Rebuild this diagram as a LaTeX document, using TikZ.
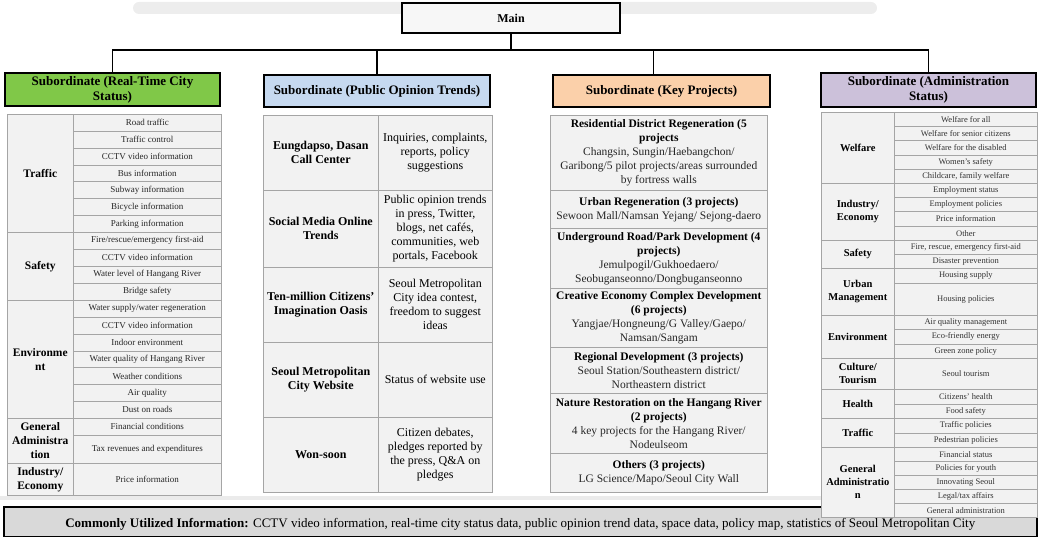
\documentclass[tikz,border=0pt]{standalone}
\usepackage{fontspec}
\setmainfont{Liberation Serif}

\definecolor{statusgreen}{RGB}{128,200,72}
\definecolor{opinionblue}{RGB}{198,217,240}
\definecolor{projectpeach}{RGB}{251,208,170}
\definecolor{adminlilac}{RGB}{204,193,218}
\definecolor{cellgrey}{RGB}{242,242,242}
\definecolor{rulegrey}{RGB}{165,165,165}

\tikzset{
  subhead/.style={draw=black, line width=1.8pt, inner sep=0pt, align=center,
    font=\fontsize{13}{15}\selectfont\bfseries},
  link/.style={line width=1.2pt},
  cell/.style={draw=rulegrey, fill=cellgrey, line width=0.6pt, inner sep=0pt,
    anchor=north west, align=center},
  grouplabel/.style={cell, font=\fontsize{11.5}{14}\selectfont\bfseries},
  smallitem/.style={cell, font=\fontsize{9}{11}\selectfont, text=black!85},
  adminlabel/.style={cell, font=\fontsize{10.5}{13}\selectfont\bfseries},
  tinyitem/.style={cell, font=\fontsize{8.5}{10}\selectfont, text=black!80},
  opinionlabel/.style={cell, font=\fontsize{12}{14}\selectfont\bfseries},
  opiniontext/.style={cell, font=\fontsize{12}{14}\selectfont},
  projectcell/.style={cell, minimum width=217pt, font=\fontsize{11.5}{14}\selectfont, text=black!85},
}

\begin{document}
\begin{tikzpicture}[x=1pt,y=-1pt]
    \useasboundingbox (0,0) rectangle (1038,537);

    % soft shadows
    \fill[black!7, rounded corners=6pt] (133,2) rectangle (877,14);
    \fill[black!8] (0,496) rectangle (1038,500);

    \node (main) [draw, line width=1.2pt, fill=cellgrey!60, minimum width=218pt, minimum height=30pt,
        font=\fontsize{12}{14}\selectfont\bfseries] at (511,18) {Main};

    % the four subordinate headings
    \node (status) [subhead, fill=statusgreen, minimum width=215pt, minimum height=33pt] at (112.5,89.5) {Subordinate (Real-Time City\\Status)};
    \node (opinion) [subhead, fill=opinionblue, minimum width=226pt, minimum height=32pt] at (377,91) {Subordinate (Public Opinion Trends)};
    \node (projects) [subhead, fill=projectpeach, minimum width=217pt, minimum height=32pt] at (661.5,91) {Subordinate (Key Projects)};
    \node (admin) [subhead, fill=adminlilac, minimum width=215pt, minimum height=34pt] at (928.5,90) {Subordinate (Administration\\Status)};

    \coordinate (bus) at (511,50);
    \draw[link] (main.south) -- (bus);
    \draw[link] (status.north) |- (bus) -| (admin.north);
    \draw[link] (opinion.north) -- (opinion.north |- bus);
    \draw[link] ([xshift=-8pt]projects.north) -- ([xshift=-8pt]projects.north |- bus);

    % real-time city status
    \node (traffic) [grouplabel, minimum width=66pt, minimum height=118pt] at (7,114) {Traffic};
    \foreach \t [count=\i from 0] in {Road traffic, Traffic control, CCTV video information, Bus information,
        Subway information, Bicycle information, Parking information}
        \node (traffic\i) [smallitem, minimum width=148pt, minimum height=16.86pt] at (73,{114+16.86*\i}) {\t};
    \node (safety) [grouplabel, minimum width=66pt, minimum height=68pt] at (7,232) {Safety};
    \foreach \t [count=\i from 0] in {Fire/rescue/emergency first-aid, CCTV video information,
        Water level of Hangang River, Bridge safety}
        \node (safety\i) [smallitem, minimum width=148pt, minimum height=17pt] at (73,{232+17*\i}) {\t};
    \node (environment) [grouplabel, minimum width=66pt, minimum height=118pt] at (7,300) {Environme\\nt};
    \foreach \t [count=\i from 0] in {Water supply/water regeneration, CCTV video information, Indoor environment,
        Water quality of Hangang River, Weather conditions, Air quality, Dust on roads}
        \node (environment\i) [smallitem, minimum width=148pt, minimum height=16.86pt] at (73,{300+16.86*\i}) {\t};
    \node (general) [grouplabel, minimum width=66pt, minimum height=45pt] at (7,418) {General\\Administra\\tion};
    \node (general0) [smallitem, minimum width=148pt, minimum height=17pt] at (73,418) {Financial conditions};
    \node (general1) [smallitem, minimum width=148pt, minimum height=28pt] at (73,435) {Tax revenues and expenditures};
    \node (industry) [grouplabel, minimum width=66pt, minimum height=32pt] at (7,463) {Industry/\\Economy};
    \node (industry0) [smallitem, minimum width=148pt, minimum height=32pt] at (73,463) {Price information};

    % public opinion trends
    \node (callcenter) [opinionlabel, minimum width=115pt, minimum height=75pt] at (263,115) {Eungdapso, Dasan\\Call Center};
    \node (callcenter0) [opiniontext, minimum width=114pt, minimum height=75pt] at (378,115) {Inquiries, complaints,\\reports, policy\\suggestions};
    \node (social) [opinionlabel, minimum width=115pt, minimum height=77pt] at (263,190) {Social Media Online\\Trends};
    \node (social0) [opiniontext, minimum width=114pt, minimum height=77pt] at (378,190) {Public opinion trends\\in press, Twitter,\\blogs, net cafés,\\communities, web\\portals, Facebook};
    \node (oasis) [opinionlabel, minimum width=115pt, minimum height=75pt] at (263,267) {Ten-million Citizens'\\Imagination Oasis};
    \node (oasis0) [opiniontext, minimum width=114pt, minimum height=75pt] at (378,267) {Seoul Metropolitan\\City idea contest,\\freedom to suggest\\ideas};
    \node (website) [opinionlabel, minimum width=115pt, minimum height=75pt] at (263,342) {Seoul Metropolitan\\City Website};
    \node (website0) [opiniontext, minimum width=114pt, minimum height=75pt] at (378,342) {Status of website use};
    \node (wonsoon) [opinionlabel, minimum width=115pt, minimum height=75pt] at (263,417) {Won-soon};
    \node (wonsoon0) [opiniontext, minimum width=114pt, minimum height=75pt] at (378,417) {Citizen debates,\\pledges reported by\\the press, Q\&A on\\pledges};

    % key projects
    \node (residential) [projectcell, minimum height=75pt] at (550,115)
        {\textbf{\color{black}Residential District Regeneration (5}\\\textbf{\color{black}projects}\\Changsin, Sungin/Haebangchon/\\Garibong/5 pilot projects/areas surrounded\\by fortress walls};
    \node (urban) [projectcell, minimum height=38pt] at (550,190)
        {\textbf{\color{black}Urban Regeneration (3 projects)}\\Sewoon Mall/Namsan Yejang/ Sejong-daero};
    \node (underground) [projectcell, minimum height=60pt] at (550,228)
        {\textbf{\color{black}Underground Road/Park Development (4}\\\textbf{\color{black}projects)}\\Jemulpogil/Gukhoedaero/\\Seobuganseonno/Dongbuganseonno};
    \node (creative) [projectcell, minimum height=59pt] at (550,288)
        {\textbf{\color{black}Creative Economy Complex Development}\\\textbf{\color{black}(6 projects)}\\Yangjae/Hongneung/G Valley/Gaepo/\\Namsan/Sangam};
    \node (regional) [projectcell, minimum height=46pt] at (550,347)
        {\textbf{\color{black}Regional Development (3 projects)}\\Seoul Station/Southeastern district/\\Northeastern district};
    \node (nature) [projectcell, minimum height=60pt] at (550,393)
        {\textbf{\color{black}Nature Restoration on the Hangang River}\\\textbf{\color{black}(2 projects)}\\4 key projects for the Hangang River/\\Nodeulseom};
    \node (others) [projectcell, minimum height=39pt] at (550,453)
        {\textbf{\color{black}Others (3 projects)}\\LG Science/Mapo/Seoul City Wall};

    % shared information bar
    \node (common) [draw, line width=1.5pt, fill=black!15, anchor=north west, minimum width=1033pt, minimum height=30pt] at (3,506) {};
    \node (commontext) [font=\fontsize{13}{15}\selectfont, inner sep=0pt] at ([yshift=-3pt]common.center)
        {\textbf{Commonly Utilized Information:} CCTV video information, real-time city status data, public opinion trend data, space data, policy map, statistics of Seoul Metropolitan City};

    % administration status
    \node (welfare) [adminlabel, minimum width=73pt, minimum height=71pt] at (821,112) {Welfare};
    \foreach \t [count=\i from 0] in {Welfare for all, Welfare for senior citizens, Welfare for the disabled,
        Women's safety, {Childcare, family welfare}}
        \node (welfare\i) [tinyitem, minimum width=143pt, minimum height=14.2pt] at (894,{112+14.2*\i}) {\t};
    \node (economy) [adminlabel, minimum width=73pt, minimum height=57pt] at (821,183) {Industry/\\Economy};
    \foreach \t [count=\i from 0] in {Employment status, Employment policies, Price information, Other}
        \node (economy\i) [tinyitem, minimum width=143pt, minimum height=14.25pt] at (894,{183+14.25*\i}) {\t};
    \node (adminsafety) [adminlabel, minimum width=73pt, minimum height=28pt] at (821,240) {Safety};
    \foreach \t [count=\i from 0] in {{Fire, rescue, emergency first-aid}, Disaster prevention}
        \node (adminsafety\i) [tinyitem, minimum width=143pt, minimum height=14pt] at (894,{240+14*\i}) {\t};
    \node (management) [adminlabel, minimum width=73pt, minimum height=47pt] at (821,268) {Urban\\Management};
    \node (management0) [tinyitem, minimum width=143pt, minimum height=14.5pt] at (894,268) {Housing supply};
    \node (management1) [tinyitem, minimum width=143pt, minimum height=32.5pt] at (894,282.5) {Housing policies};
    \node (adminenv) [adminlabel, minimum width=73pt, minimum height=43pt] at (821,315) {Environment};
    \foreach \t [count=\i from 0] in {Air quality management, Eco-friendly energy, Green zone policy}
        \node (adminenv\i) [tinyitem, minimum width=143pt, minimum height=14.33pt] at (894,{315+14.33*\i}) {\t};
    \node (culture) [adminlabel, minimum width=73pt, minimum height=31pt] at (821,358) {Culture/\\Tourism};
    \node (culture0) [tinyitem, minimum width=143pt, minimum height=31pt] at (894,358) {Seoul tourism};
    \node (health) [adminlabel, minimum width=73pt, minimum height=29pt] at (821,389) {Health};
    \foreach \t [count=\i from 0] in {Citizens' health, Food safety}
        \node (health\i) [tinyitem, minimum width=143pt, minimum height=14.5pt] at (894,{389+14.5*\i}) {\t};
    \node (admintraffic) [adminlabel, minimum width=73pt, minimum height=29pt] at (821,418) {Traffic};
    \foreach \t [count=\i from 0] in {Traffic policies, Pedestrian policies}
        \node (admintraffic\i) [tinyitem, minimum width=143pt, minimum height=14.5pt] at (894,{418+14.5*\i}) {\t};
    \node (adminadmin) [adminlabel, minimum width=73pt, minimum height=70pt] at (821,447) {General\\Administratio\\n};
    \foreach \t [count=\i from 0] in {Financial status, Policies for youth, Innovating Seoul, Legal/tax affairs,
        General administration}
        \node (adminadmin\i) [tinyitem, minimum width=143pt, minimum height=14pt] at (894,{447+14*\i}) {\t};
\end{tikzpicture}
\end{document}
